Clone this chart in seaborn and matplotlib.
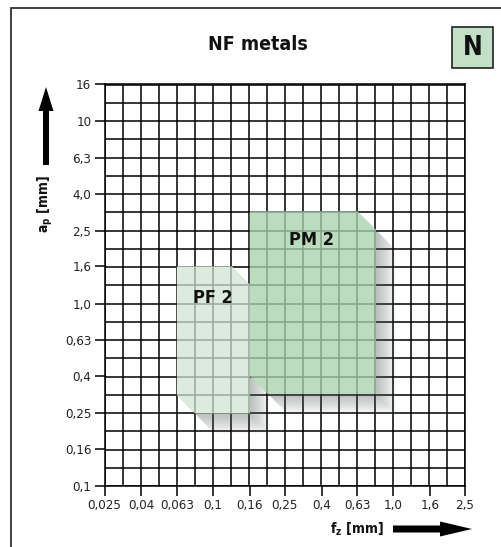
import numpy as np
import seaborn as sns
import matplotlib.pyplot as plt
from matplotlib.patches import FancyArrow, Rectangle, Polygon
from matplotlib.ticker import NullLocator
from matplotlib.transforms import IdentityTransform

# axis ticks (log scale, R5 labels on an R10 grid)
x_ticks = [0.025, 0.04, 0.063, 0.1, 0.16, 0.25, 0.4, 0.63, 1.0, 1.6, 2.5]
x_labels = ["0,025", "0,04", "0,063", "0,1", "0,16", "0,25", "0,4", "0,63", "1,0", "1,6", "2,5"]
y_ticks = [0.1, 0.16, 0.25, 0.4, 0.63, 1.0, 1.6, 2.5, 4.0, 6.3, 10, 16]
y_labels = ["0,1", "0,16", "0,25", "0,4", "0,63", "1,0", "1,6", "2,5", "4,0", "6,3", "10", "16"]

# application areas: name, fz range, ap range
areas = ["PF 2", "PM 2"]
area_fz = [(0.063, 0.16), (0.16, 0.8)]
area_ap = [(0.25, 1.6), (0.32, 3.2)]
area_colors = ["#dcebdd", "#bcdcc0"]
area_grid = ["#98a99a", "#86a08a"]
label_pos = [(0.1, 1.08), (0.35, 2.22)]

sns.set_theme(style="white")
plt.rcParams['font.family'] = ['DejaVu Sans']
plt.rcParams['font.stretch'] = 'condensed'

fig = plt.figure(figsize=(5.01, 5.47), dpi=100)
ax = fig.add_axes([104.5 / 501, 61 / 547, 360.5 / 501, 402 / 547])
ax.set_xscale("log")
ax.set_yscale("log")
x_lim = (0.025, 2.5)
y_lim = (0.1, 10 ** 1.2)
ax.set_xlim(*x_lim)
ax.set_ylim(*y_lim)

step = 10 ** 0.1
grid_x = 0.025 * step ** np.arange(0, 21)
grid_y = 0.1 * step ** np.arange(0, 23)
ax.vlines(grid_x, *y_lim, color="black", lw=1.1, zorder=1)
ax.hlines(grid_y, *x_lim, color="black", lw=1.1, zorder=1)

ax.xaxis.set_minor_locator(NullLocator())
ax.yaxis.set_minor_locator(NullLocator())
ax.set_xticks(x_ticks, x_labels)
ax.set_yticks(y_ticks, y_labels)
ax.tick_params(which="major", length=7.5, width=1.1, color="black", direction="out",
               labelsize=9.5, pad=2, bottom=True, left=True, labelcolor="#222222")
for s in ax.spines.values():
    s.set_color("black")
    s.set_linewidth(1.1)


def area_poly(fz, ap):
    x0, x1 = fz
    y0, y1 = ap
    xs = [x0, x1 / step, x1, x1, x0 * step, x0]
    ys = [y1, y1, y1 / step, y0, y0, y0 * step]
    return np.array(xs), np.array(ys)


for i, name in enumerate(areas):
    xs, ys = area_poly(area_fz[i], area_ap[i])
    z = 3 + 2 * i
    # soft drop shadow, offset to the lower right
    for k in range(12):
        f = step ** (0.1 * k)
        ax.fill(xs * f, ys / f, color="#5d6b5f", alpha=0.045, lw=0, zorder=z - 0.5)
    ax.fill(xs, ys, color=area_colors[i], lw=0, zorder=z)
    # grid seen through the area, clipped to its outline
    clip = Polygon(np.column_stack([xs, ys]), closed=True, transform=ax.transData)
    gx = grid_x[(grid_x > area_fz[i][0] * 1.01) & (grid_x < area_fz[i][1] * 0.99)]
    gy = grid_y[(grid_y > area_ap[i][0] * 1.01) & (grid_y < area_ap[i][1] * 0.99)]
    vl = ax.vlines(gx, area_ap[i][0], area_ap[i][1], color=area_grid[i], lw=1.1, zorder=z + 0.5)
    hl = ax.hlines(gy, area_fz[i][0], area_fz[i][1], color=area_grid[i], lw=1.1, zorder=z + 0.5)
    vl.set_clip_path(clip)
    hl.set_clip_path(clip)
    ax.text(*label_pos[i], name, ha="center", va="center", fontsize=13, fontweight="bold",
            color="#111111", zorder=8)

fig.text(258 / 501, 1 - 45 / 547, "NF metals", ha="center", va="center",
         fontsize=14, fontweight="bold", color="#111111")

# N box
fig.add_artist(Rectangle((452.3, 547 - 68.3), 41, 41, transform=IdentityTransform(),
                         facecolor="#c2e0c6", edgecolor="#222222", lw=1.2))
fig.text(472.8 / 501, 1 - 48 / 547, "N", ha="center", va="center",
         fontsize=19, fontweight="bold", color="#111111")

# outer frame
fig.add_artist(Rectangle((11, -20), 600, 547 - 8 + 20, transform=IdentityTransform(),
                         fill=False, edgecolor="#333333", lw=1.3))

# axis labels with arrows
fig.text(45 / 501, 1 - 204 / 547, "a$_\\mathbf{p}$ [mm]", rotation=90, ha="center", va="center",
         fontsize=10, fontweight="bold", color="#111111")
fig.add_artist(FancyArrow(46, 547 - 165, 0, 78, width=6, head_width=15, head_length=24,
                          length_includes_head=True, transform=IdentityTransform(),
                          color="black", lw=0))
fig.text(357 / 501, 1 - 529 / 547, "f$_\\mathbf{z}$ [mm]", ha="center", va="center",
         fontsize=10, fontweight="bold", color="#111111")
fig.add_artist(FancyArrow(393, 547 - 529, 79, 0, width=7, head_width=15, head_length=32,
                          length_includes_head=True, transform=IdentityTransform(),
                          color="black", lw=0))

fig.savefig("out.png", dpi=100)
